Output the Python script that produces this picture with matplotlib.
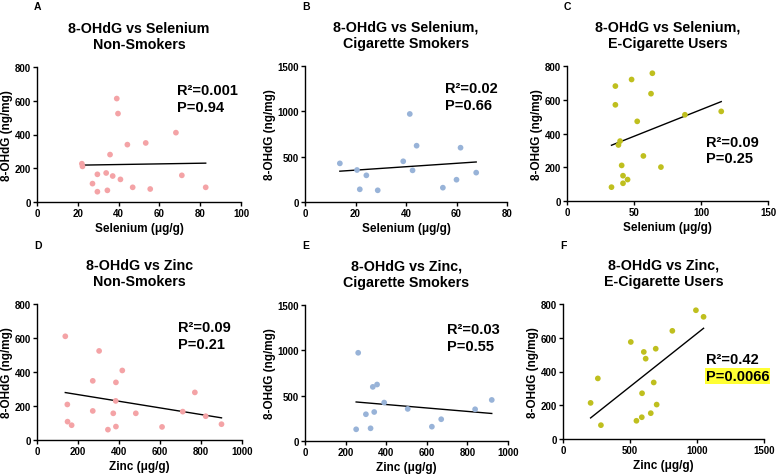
import numpy as np
import matplotlib
matplotlib.use("Agg")
import matplotlib.pyplot as plt

plt.rcParams["font.family"] = ["Liberation Sans", "DejaVu Sans"]
plt.rcParams["font.weight"] = "bold"

# colours per group
pink = "#f4a3a6"
blue = "#98b3d8"
olive = "#bfbf1e"

# A: selenium, non-smokers
se_ns_x = [22.0, 22.3, 29.6, 27.2, 29.6, 33.9, 34.5, 35.8, 37.1, 39.1, 39.7, 40.9, 44.3, 46.9, 53.3, 55.5, 68.1, 71.0, 82.7]
se_ns_y = [227, 211, 164, 109, 61, 172, 69, 281, 154, 613, 524, 134, 340, 87, 350, 77, 411, 158, 87]

# B: selenium, cigarette smokers
se_cs_x = [13.8, 20.6, 21.7, 24.3, 28.8, 38.9, 41.5, 42.6, 44.2, 54.6, 60.0, 61.6, 67.8]
se_cs_y = [426, 353, 140, 294, 129, 449, 971, 349, 621, 158, 246, 599, 324]

# C: selenium, e-cig users
se_ec_x = [33.2, 36.1, 36.1, 38.4, 39.6, 40.8, 41.8, 41.8, 45.2, 48.2, 52.4, 57.0, 62.7, 63.7, 70.1, 88.0, 115.1]
se_ec_y = [82, 681, 570, 332, 355, 211, 150, 105, 127, 720, 472, 267, 636, 757, 201, 511, 531]

# D: zinc, non-smokers
zn_ns_x = [138, 148, 149, 169, 272, 272, 303, 346, 372, 385, 384, 385, 416, 482, 610, 711, 770, 823, 900]
zn_ns_y = [610, 209, 108, 87, 348, 171, 524, 61, 157, 339, 230, 79, 409, 157, 77, 167, 280, 140, 93]

# E: zinc, cigarette smokers
zn_cs_x = [252, 262, 300, 323, 334, 341, 355, 390, 506, 625, 671, 838, 920]
zn_cs_y = [129, 973, 295, 140, 597, 320, 623, 424, 354, 158, 240, 350, 453]

# F: zinc, e-cig users
zn_ec_x = [206, 260, 283, 506, 548, 588, 590, 603, 617, 655, 677, 692, 699, 816, 992, 1049]
zn_ec_y = [214, 359, 82, 575, 108, 129, 271, 516, 476, 153, 335, 535, 204, 641, 763, 724]

panels = [
    # letter, title, x, y, colour, xlim, xticks, ylim, yticks, xlabel, r2, p, text pos
    ("A", "8-OHdG vs Selenium\nNon-Smokers", se_ns_x, se_ns_y, pink, 100, [0, 20, 40, 60, 80, 100], 800, [0, 200, 400, 600, 800],
     "Selenium (\u03bcg/g)", "0.001", "0.94", (0.686, 0.83)),
    ("B", "8-OHdG vs Selenium,\nCigarette Smokers", se_cs_x, se_cs_y, blue, 80, [0, 20, 40, 60, 80], 1500, [0, 500, 1000, 1500],
     "Selenium (\u03bcg/g)", "0.02", "0.66", (0.693, 0.84)),
    ("C", "8-OHdG vs Selenium,\nE-Cigarette Users", se_ec_x, se_ec_y, olive, 150, [0, 50, 100, 150], 800, [0, 200, 400, 600, 800],
     "Selenium (\u03bcg/g)", "0.09", "0.25", (0.69, 0.44)),
    ("D", "8-OHdG vs Zinc\nNon-Smokers", zn_ns_x, zn_ns_y, pink, 1000, [0, 200, 400, 600, 800, 1000], 800, [0, 200, 400, 600, 800],
     "Zinc (\u03bcg/g)", "0.09", "0.21", (0.69, 0.83)),
    ("E", "8-OHdG vs Zinc,\nCigarette Smokers", zn_cs_x, zn_cs_y, blue, 1000, [0, 200, 400, 600, 800, 1000], 1500, [0, 500, 1000, 1500],
     "Zinc (\u03bcg/g)", "0.03", "0.55", (0.70, 0.82)),
    ("F", "8-OHdG vs Zinc,\nE-Cigarette Users", zn_ec_x, zn_ec_y, olive, 1500, [0, 500, 1000, 1500], 800, [0, 200, 400, 600, 800],
     "Zinc (\u03bcg/g)", "0.42", "0.0066", (0.71, 0.59)),
]

# axes boxes in pixels (left, right, top, bottom)
boxes = [(37, 241, 68, 203), (305, 507, 67, 203), (567, 768, 67, 202),
         (37, 242, 305, 441), (305, 508, 306, 442), (563, 764, 305, 440)]

W, H = 778, 477
fig = plt.figure(figsize=(W / 100, H / 100), dpi=100)

for (letter, title, x, y, col, xmax, xt, ymax, yt, xlab, r2, p, tpos), (l, r, t, b) in zip(panels, boxes):
    ax = fig.add_axes([l / W, 1 - b / H, (r - l) / W, (b - t) / H])
    ax.scatter(x, y, s=17, color=col, edgecolor="none", zorder=3, clip_on=False)
    # least squares line over data range
    xa = np.array(x, dtype=float)
    slope, icpt = np.polyfit(xa, np.array(y, dtype=float), 1)
    xx = np.array([xa.min(), xa.max()])
    ax.plot(xx, slope * xx + icpt, color="black", lw=1.0, zorder=2)

    ax.set_xlim(0, xmax)
    ax.set_ylim(0, ymax)
    ax.set_xticks(xt)
    ax.set_yticks(yt)
    ax.tick_params(labelsize=7, width=1, length=3, pad=1.5)
    for lab in ax.get_xticklabels() + ax.get_yticklabels():
        lab.set_fontweight("bold")
    for s in ["top", "right"]:
        ax.spines[s].set_visible(False)
    for s in ["left", "bottom"]:
        ax.spines[s].set_linewidth(1.0)
    ax.set_xlabel(xlab, fontsize=8.5, fontweight="bold", labelpad=3)
    ax.set_ylabel("8-OHdG (ng/mg)", fontsize=8.5, fontweight="bold", labelpad=1)
    ax.set_title(title, fontsize=10.3, fontweight="bold", pad=14, linespacing=1.15)

    ax.text(tpos[0], tpos[1], "R\u00b2=" + r2, transform=ax.transAxes, fontsize=10.5,
            fontweight="bold", va="center", ha="left")
    ptxt = ax.text(tpos[0], tpos[1] - 0.125, "P=" + p, transform=ax.transAxes, fontsize=10.5,
                   fontweight="bold", va="center", ha="left")
    if letter == "F":
        ptxt.set_bbox(dict(facecolor="#ffff33", edgecolor="none", pad=0.5))

    fig.text((l - 3) / W, 1 - 7 / H if t < 100 else 1 - 246 / H, letter, fontsize=7.5,
             fontweight="bold", ha="left", va="center")

fig.savefig("out.png", dpi=100)
